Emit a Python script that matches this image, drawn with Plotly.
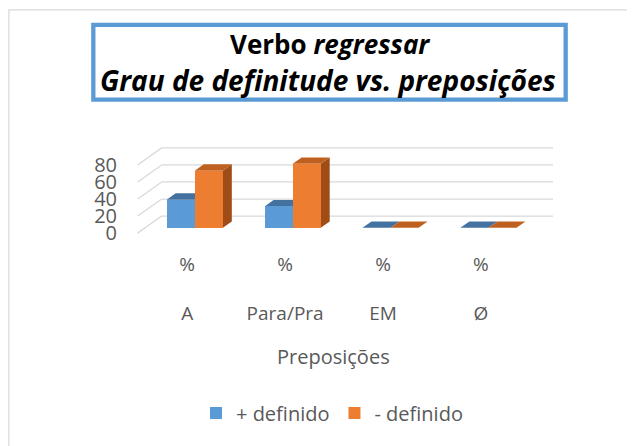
import plotly.graph_objects as go

# ---------------- data ----------------
categories = ["A", "Para/Pra", "EM", "Ø"]
unit_label = "%"
series_names = ["+ definido", "- definido"]
mais_definido = [33, 25, 0, 0]
menos_definido = [67, 75, 0, 0]
y_ticks = [0, 20, 40, 60, 80]
title_line1 = "<b>Verbo <i>regressar</i></b>"
title_line2 = "<b><i>Grau de definitude vs. preposições</i></b>"
x_title = "Preposições"

# ---------------- styling / 3D projection parameters ----------------
FONT = "Open Sans"
GREY = "#595959"
BLUE, BLUE_TOP = "#5B9BD5", "#4472A0"
ORANGE, ORANGE_TOP, ORANGE_SIDE = "#ED7D31", "#C0601E", "#A04C17"
GRID = "#D9D9D9"

W_FIG, H_FIG = 635, 446
OFF = 8                     # page body margin

PPX, X0PX = 97.7, 195.0 - OFF   # px per category unit, px of category 0
PPY, Y0PX = 0.85, 233.0 - OFF   # px per value unit, px of value 0 (front)
XMIN, XMAX = -0.6, 3.68
YMIN, YMAX = -1.0, 101.0

DX = 24 / PPX               # full floor depth, x units
DY = 17 / PPY               # full floor depth, y units
F = 0.3125                  # depth of bar front face
DB = 0.375                  # bar depth fraction
BW = 28 / PPX               # width of one bar
BASE = F * DY
ddx, ddy = DB * DX, DB * DY

L = X0PX + XMIN * PPX
PW = (XMAX - XMIN) * PPX
R = W_FIG - L - PW
T = Y0PX - YMAX * PPY
PH = (YMAX - YMIN) * PPY
B = H_FIG - T - PH


def pxx(px):
    return (px - OFF - L) / PW


def pxy(py):
    return (T + PH - (py - OFF)) / PH


xs = list(range(len(categories)))

fig = go.Figure()
fig.add_trace(go.Bar(
    x=xs, y=mais_definido, base=BASE, width=BW, offset=-BW,
    name=series_names[0], marker=dict(color=BLUE, line=dict(width=0)),
))
fig.add_trace(go.Bar(
    x=xs, y=menos_definido, base=BASE, width=BW, offset=0,
    name=series_names[1], marker=dict(color=ORANGE, line=dict(width=0)),
))

shapes = []
x_front_left = XMIN + 0.017
x_back_left = x_front_left + DX
for v in y_ticks:
    shapes.append(dict(type="line", xref="x", yref="y", layer="below",
                       x0=x_front_left, y0=v, x1=x_back_left, y1=v + DY,
                       line=dict(color=GRID, width=1.3)))
    shapes.append(dict(type="line", xref="x", yref="y", layer="below",
                       x0=x_back_left, y0=v + DY, x1=XMAX - 0.02, y1=v + DY,
                       line=dict(color=GRID, width=1.3)))


def poly(pts, color):
    path = "M " + " L ".join(f"{x},{y}" for x, y in pts) + " Z"
    return dict(type="path", xref="x", yref="y", layer="below", path=path,
                fillcolor=color, line=dict(width=0))


for i, (vb, vo) in enumerate(zip(mais_definido, menos_definido)):
    yb = BASE + vb
    yo = BASE + vo
    shapes.append(poly([(i - BW, yb), (i, yb), (i + ddx, yb + ddy),
                        (i - BW + ddx, yb + ddy)], BLUE_TOP))
    shapes.append(poly([(i + BW, BASE), (i + BW, yo), (i + BW + ddx, yo + ddy),
                        (i + BW + ddx, BASE + ddy)], ORANGE_SIDE))
    shapes.append(poly([(i, yo), (i + BW, yo), (i + BW + ddx, yo + ddy),
                        (i + ddx, yo + ddy)], ORANGE_TOP))

# outer chart border and title box
shapes.append(dict(type="rect", xref="paper", yref="paper", layer="below",
                   x0=pxx(9.5), y0=pxy(10.5), x1=pxx(700), y1=pxy(520),
                   line=dict(color="#D9D9D9", width=1.2)))
shapes.append(dict(type="rect", xref="paper", yref="paper", layer="below",
                   x0=pxx(93.8), y0=pxy(25.5), x1=pxx(565.2), y1=pxy(100),
                   line=dict(color="#5B9BD5", width=4.3)))

annotations = [
    dict(xref="paper", yref="paper", x=pxx(330), y=pxy(45),
         xanchor="center", yanchor="middle", showarrow=False,
         text=title_line1, font=dict(family=FONT, size=26, color="#000000")),
    dict(xref="paper", yref="paper", x=pxx(328), y=pxy(80),
         xanchor="center", yanchor="middle", showarrow=False,
         text=title_line2, font=dict(family=FONT, size=28, color="#000000")),
    dict(xref="paper", yref="paper", x=pxx(333), y=pxy(356),
         xanchor="center", yanchor="middle", showarrow=False,
         text=x_title, font=dict(family=FONT, size=20, color=GREY)),
]

fig.update_layout(
    width=W_FIG, height=H_FIG,
    margin=dict(l=L, r=R, t=T, b=B, autoexpand=False),
    paper_bgcolor="white", plot_bgcolor="white",
    showlegend=True,
    legend=dict(orientation="h", xref="container", yref="container",
                x=(332 - OFF) / W_FIG, y=1 - (413 - OFF) / H_FIG,
                xanchor="center", yanchor="middle",
                font=dict(family=FONT, size=20, color=GREY),
                bgcolor="rgba(0,0,0,0)"),
    shapes=shapes, annotations=annotations,
    bargap=0,
)
fig.update_xaxes(range=[XMIN, XMAX], showgrid=False, zeroline=False,
                 showline=False, ticks="",
                 tickvals=[i - F * DX for i in xs],
                 ticktext=[f"{unit_label}<br><br>{c}" for c in categories],
                 tickfont=dict(family=FONT, size=19, color=GREY),
                 ticklabelstandoff=17, automargin=False)
fig.update_yaxes(range=[YMIN, YMAX], showgrid=False, zeroline=False,
                 showline=False, ticks="", tickvals=y_ticks,
                 tickfont=dict(family=FONT, size=20, color=GREY),
                 ticklabelstandoff=18, automargin=False)

fig.write_html("out.html")
